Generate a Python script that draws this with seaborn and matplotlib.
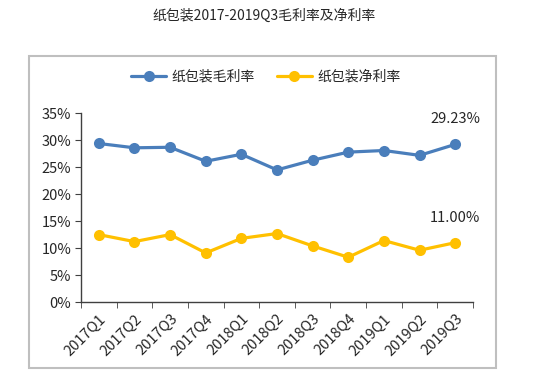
import numpy as np
import pandas as pd
import seaborn as sns
from matplotlib import pyplot as plt
from matplotlib.patches import Rectangle

quarters = ['2017Q1', '2017Q2', '2017Q3', '2017Q4', '2018Q1', '2018Q2',
            '2018Q3', '2018Q4', '2019Q1', '2019Q2', '2019Q3']
gross = [29.4, 28.6, 28.7, 26.1, 27.4, 24.5, 26.3, 27.8, 28.1, 27.2, 29.23]
net = [12.5, 11.2, 12.5, 9.1, 11.8, 12.7, 10.4, 8.3, 11.4, 9.6, 11.00]
names = ['纸包装毛利率', '纸包装净利率']

sns.set_style('white')
plt.rcParams['font.family'] = ['Noto Sans CJK SC', 'DejaVu Sans']

df = pd.DataFrame({'quarter': quarters * 2,
                   'rate': np.array(gross + net) / 100,
                   'series': [names[0]] * 11 + [names[1]] * 11})

fig = plt.figure(figsize=(5.51, 3.83), dpi=100)
ax = fig.add_axes([81 / 551, 1 - 302 / 383, 392 / 551, 188.7 / 383])

# outer chart frame like the excel chart area
fig.patches.append(Rectangle((29 / 551, 1 - 368 / 383), 467 / 551, 312 / 383,
                             transform=fig.transFigure, fill=False,
                             edgecolor='#bfbfbf', linewidth=1.5))

sns.lineplot(data=df, x='quarter', y='rate', hue='series', sort=False,
             palette=['#4A7EBB', '#FFC000'], marker='o', markersize=8,
             markeredgewidth=0, linewidth=2.3, ax=ax, legend=True)

ax.set_xlim(-0.5, 10.5)
ax.set_ylim(0, 0.35)
ax.set_yticks(np.arange(0, 0.351, 0.05))
ax.set_yticklabels([f'{int(round(v * 100))}%' for v in np.arange(0, 0.351, 0.05)], fontsize=10.5)
ax.set_xticks(range(11))
ax.set_xticklabels(quarters, rotation=45, ha='right', rotation_mode='anchor', fontsize=10.5)
ax.set_xticks(np.arange(-0.5, 11, 1), minor=True)
ax.tick_params(axis='x', which='major', length=0, pad=7)
ax.tick_params(axis='x', which='minor', length=4, color='#404040', direction='out', bottom=True)
ax.tick_params(axis='y', length=4, color='#404040', direction='out', left=True, pad=3)
ax.set_xlabel('')
ax.set_ylabel('')
for s in ['top', 'right']:
    ax.spines[s].set_visible(False)
for s in ['left', 'bottom']:
    ax.spines[s].set_color('#404040')
    ax.spines[s].set_linewidth(1)

ax.annotate(f'{gross[-1]:.2f}%', (10, gross[-1] / 100), xytext=(0, 13),
            textcoords='offset points', ha='center', va='bottom', fontsize=10.5)
ax.annotate(f'{net[-1]:.2f}%', (10, net[-1] / 100), xytext=(0, 13),
            textcoords='offset points', ha='center', va='bottom', fontsize=10.5)

ax.legend(loc='center', bbox_to_anchor=(266 / 551, 1 - 77 / 383),
          bbox_transform=fig.transFigure, ncol=2, frameon=False,
          prop={'size': 10, 'weight': 'medium'}, handlelength=2.5,
          columnspacing=1.6, handletextpad=0.4)

fig.text(264 / 551, 1 - 16 / 383, '纸包装2017-2019Q3毛利率及净利率',
         ha='center', va='center', fontsize=10)

fig.savefig('out.png', dpi=100)
